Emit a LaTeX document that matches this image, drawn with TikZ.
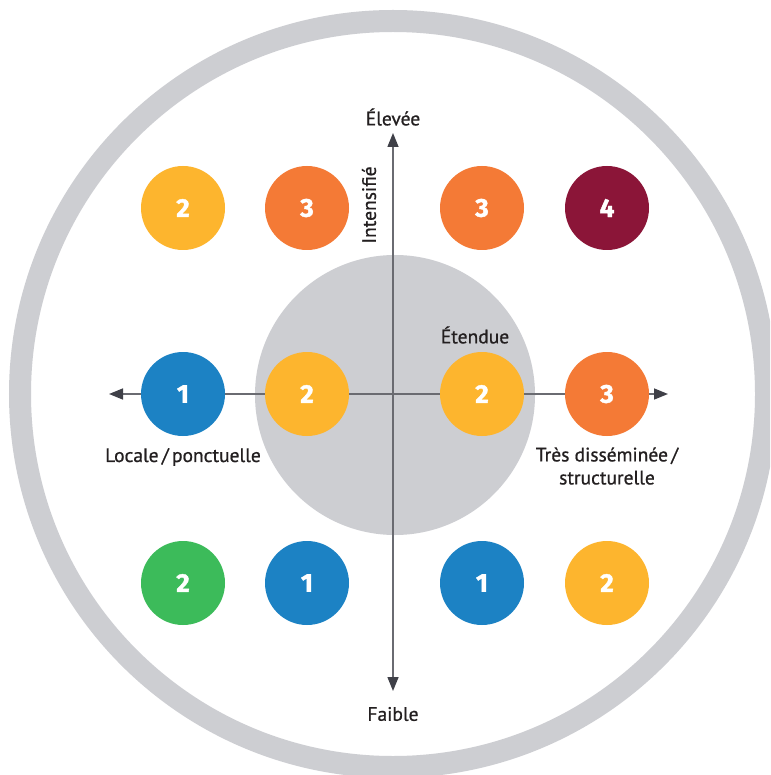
\documentclass[tikz,border=0pt]{standalone}
\usepackage{fontspec}
\setmainfont{PT Sans}
\newfontfamily\lblfont{PT Sans}[RawFeature={embolden=0.8}]
\newfontfamily\numfont{Fira Sans}[RawFeature={embolden=1.5}]
\usetikzlibrary{arrows.meta}
\definecolor{ringgray}{HTML}{CDCED2}
\definecolor{axisgray}{HTML}{6A6B71}
\definecolor{tipgray}{HTML}{3F4048}
\definecolor{textdark}{HTML}{231F20}
\definecolor{cyellow}{HTML}{FDB52E}
\definecolor{corange}{HTML}{F47A36}
\definecolor{cmaroon}{HTML}{8B1538}
\definecolor{cblue}{HTML}{1C82C4}
\definecolor{cgreen}{HTML}{3CBB5A}
\tikzset{
  dot/.style={circle, minimum size=84pt, inner sep=0pt, text=white, font=\numfont\fontsize{26}{26}\selectfont\bfseries},
  lbl/.style={text=textdark, font=\lblfont\fontsize{19.5}{23}\selectfont, inner sep=0pt, align=center},
  axis/.style={draw=axisgray, line width=1.5pt, -{Triangle[length=14pt,width=11pt,fill=tipgray,color=tipgray]}}
}
\begin{document}
\begin{tikzpicture}[x=1pt,y=-1pt]
\useasboundingbox (0,0) rectangle (770,775);
\clip (0,0) rectangle (770,775);
\fill[white] (0,0) rectangle (770,775);
\draw[ringgray, line width=22pt] (393,394) circle[radius=373];
\fill[ringgray] (395,395) circle[radius=140];
% axes
\coordinate (c) at (393,394);
\coordinate (top) at (393,133);
\coordinate (bot) at (393,691);
\coordinate (lft) at (109,394);
\coordinate (rgt) at (668,394);
\draw[axis] (c) -- (top);
\draw[axis] (c) -- (bot);
\draw[axis] (c) -- (lft);
\draw[axis] (c) -- (rgt);
% dots
\node[dot, fill=cyellow] (t1) at (183,208) {2};
\node[dot, fill=corange] (t2) at (307,208) {3};
\node[dot, fill=corange] (t3) at (482,208) {3};
\node[dot, fill=cmaroon] (t4) at (607,208) {4};
\node[dot, fill=cblue] (m1) at (183,394) {1};
\node[dot, fill=cyellow] (m2) at (307,394) {2};
\node[dot, fill=cyellow] (m3) at (482,394) {2};
\node[dot, fill=corange] (m4) at (607,394) {3};
\node[dot, fill=cgreen] (b1) at (183,583) {2};
\node[dot, fill=cblue] (b2) at (307,583) {1};
\node[dot, fill=cblue] (b3) at (482,583) {1};
\node[dot, fill=cyellow] (b4) at (607,583) {2};
% labels
\node[lbl] (elevee) at (393,117) {Élevée};
\node[lbl] (faible) at (393,714) {Faible};
\node[lbl, rotate=90] (intens) at (369,205) {Intensifié};
\node[lbl] (etendue) at (475,335) {Étendue};
\node[lbl] (locale) at (183,457) {Locale\,/\,ponctuelle};
\node[lbl] (tres) at (607,466) {Très disséminée\,/\\structurelle};
\end{tikzpicture}
\end{document}
